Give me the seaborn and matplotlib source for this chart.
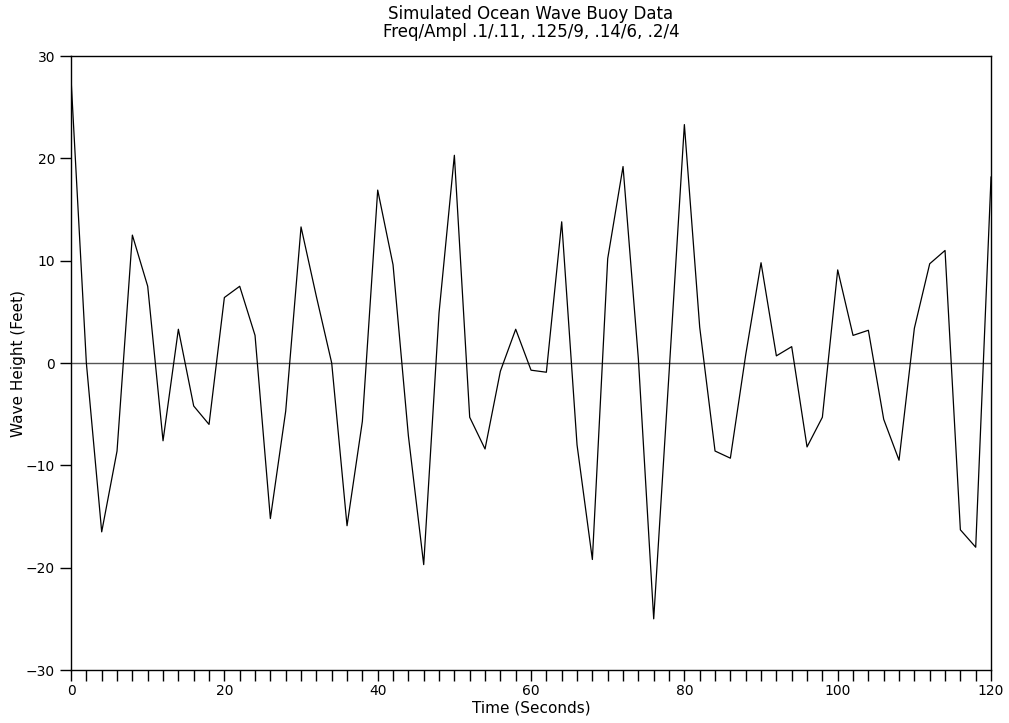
import numpy as np
import pandas as pd
import matplotlib
matplotlib.use("Agg")
import matplotlib.pyplot as plt
import seaborn as sns

# Datos (una muestra cada 2 segundos)
tiempo = list(range(0, 122, 2))
altura = [27.8, 0.0, -16.5, -8.6, 12.5, 7.5, -7.6, 3.3, -4.2, -6.0,
          6.4, 7.5, 2.7, -15.2, -4.7, 13.3, 6.5, 0.0, -15.9, -5.7,
          16.9, 9.6, -7.1, -19.7, 4.9, 20.3, -5.3, -8.4, -0.8, 3.3,
          -0.7, -0.9, 13.8, -8.0, -19.2, 10.2, 19.2, 0.4, -25.0, -1.0,
          23.3, 3.5, -8.6, -9.3, 0.8, 9.8, 0.7, 1.6, -8.2, -5.3,
          9.1, 2.7, 3.2, -5.5, -9.5, 3.4, 9.7, 11.0, -16.3, -18.0,
          18.2]

titulo = "Simulated Ocean Wave Buoy Data\nFreq/Ampl .1/.11, .125/9, .14/6, .2/4"
etiqueta_x = "Time (Seconds)"
etiqueta_y = "Wave Height (Feet)"

df = pd.DataFrame({"tiempo": tiempo, "altura": altura})

sns.set_style("ticks")
plt.rcParams["font.family"] = ["DejaVu Sans"]
plt.rcParams["text.color"] = "black"
plt.rcParams["axes.labelcolor"] = "black"

fig = plt.figure(figsize=(10.09, 7.23), dpi=100)
ax = fig.add_axes([0.0704, 0.0733, 0.9118, 0.8492])

ax.axhline(0, color="#555555", lw=1.0, zorder=1)
sns.lineplot(data=df, x="tiempo", y="altura", ax=ax, color="black", lw=0.9, zorder=2)

ax.set_xlim(0, 120)
ax.set_ylim(-30, 30)
ax.set_xticks(range(0, 121, 20))
ax.set_xticks(range(0, 121, 2), minor=True)
ax.set_yticks(range(-30, 31, 10))
ax.tick_params(axis="both", which="both", direction="out", length=8, width=1,
               labelsize=10, colors="black")
ax.tick_params(axis="x", which="major", pad=2)

for s in ax.spines.values():
    s.set_color("black")
    s.set_linewidth(1.0)

ax.set_xlabel(etiqueta_x, fontsize=11, labelpad=2, color="black")
ax.set_ylabel(etiqueta_y, fontsize=11, labelpad=0, color="black")
ax.set_title(titulo, fontsize=12, linespacing=1.0, pad=14, color="black")

fig.savefig("out.png", dpi=100)
